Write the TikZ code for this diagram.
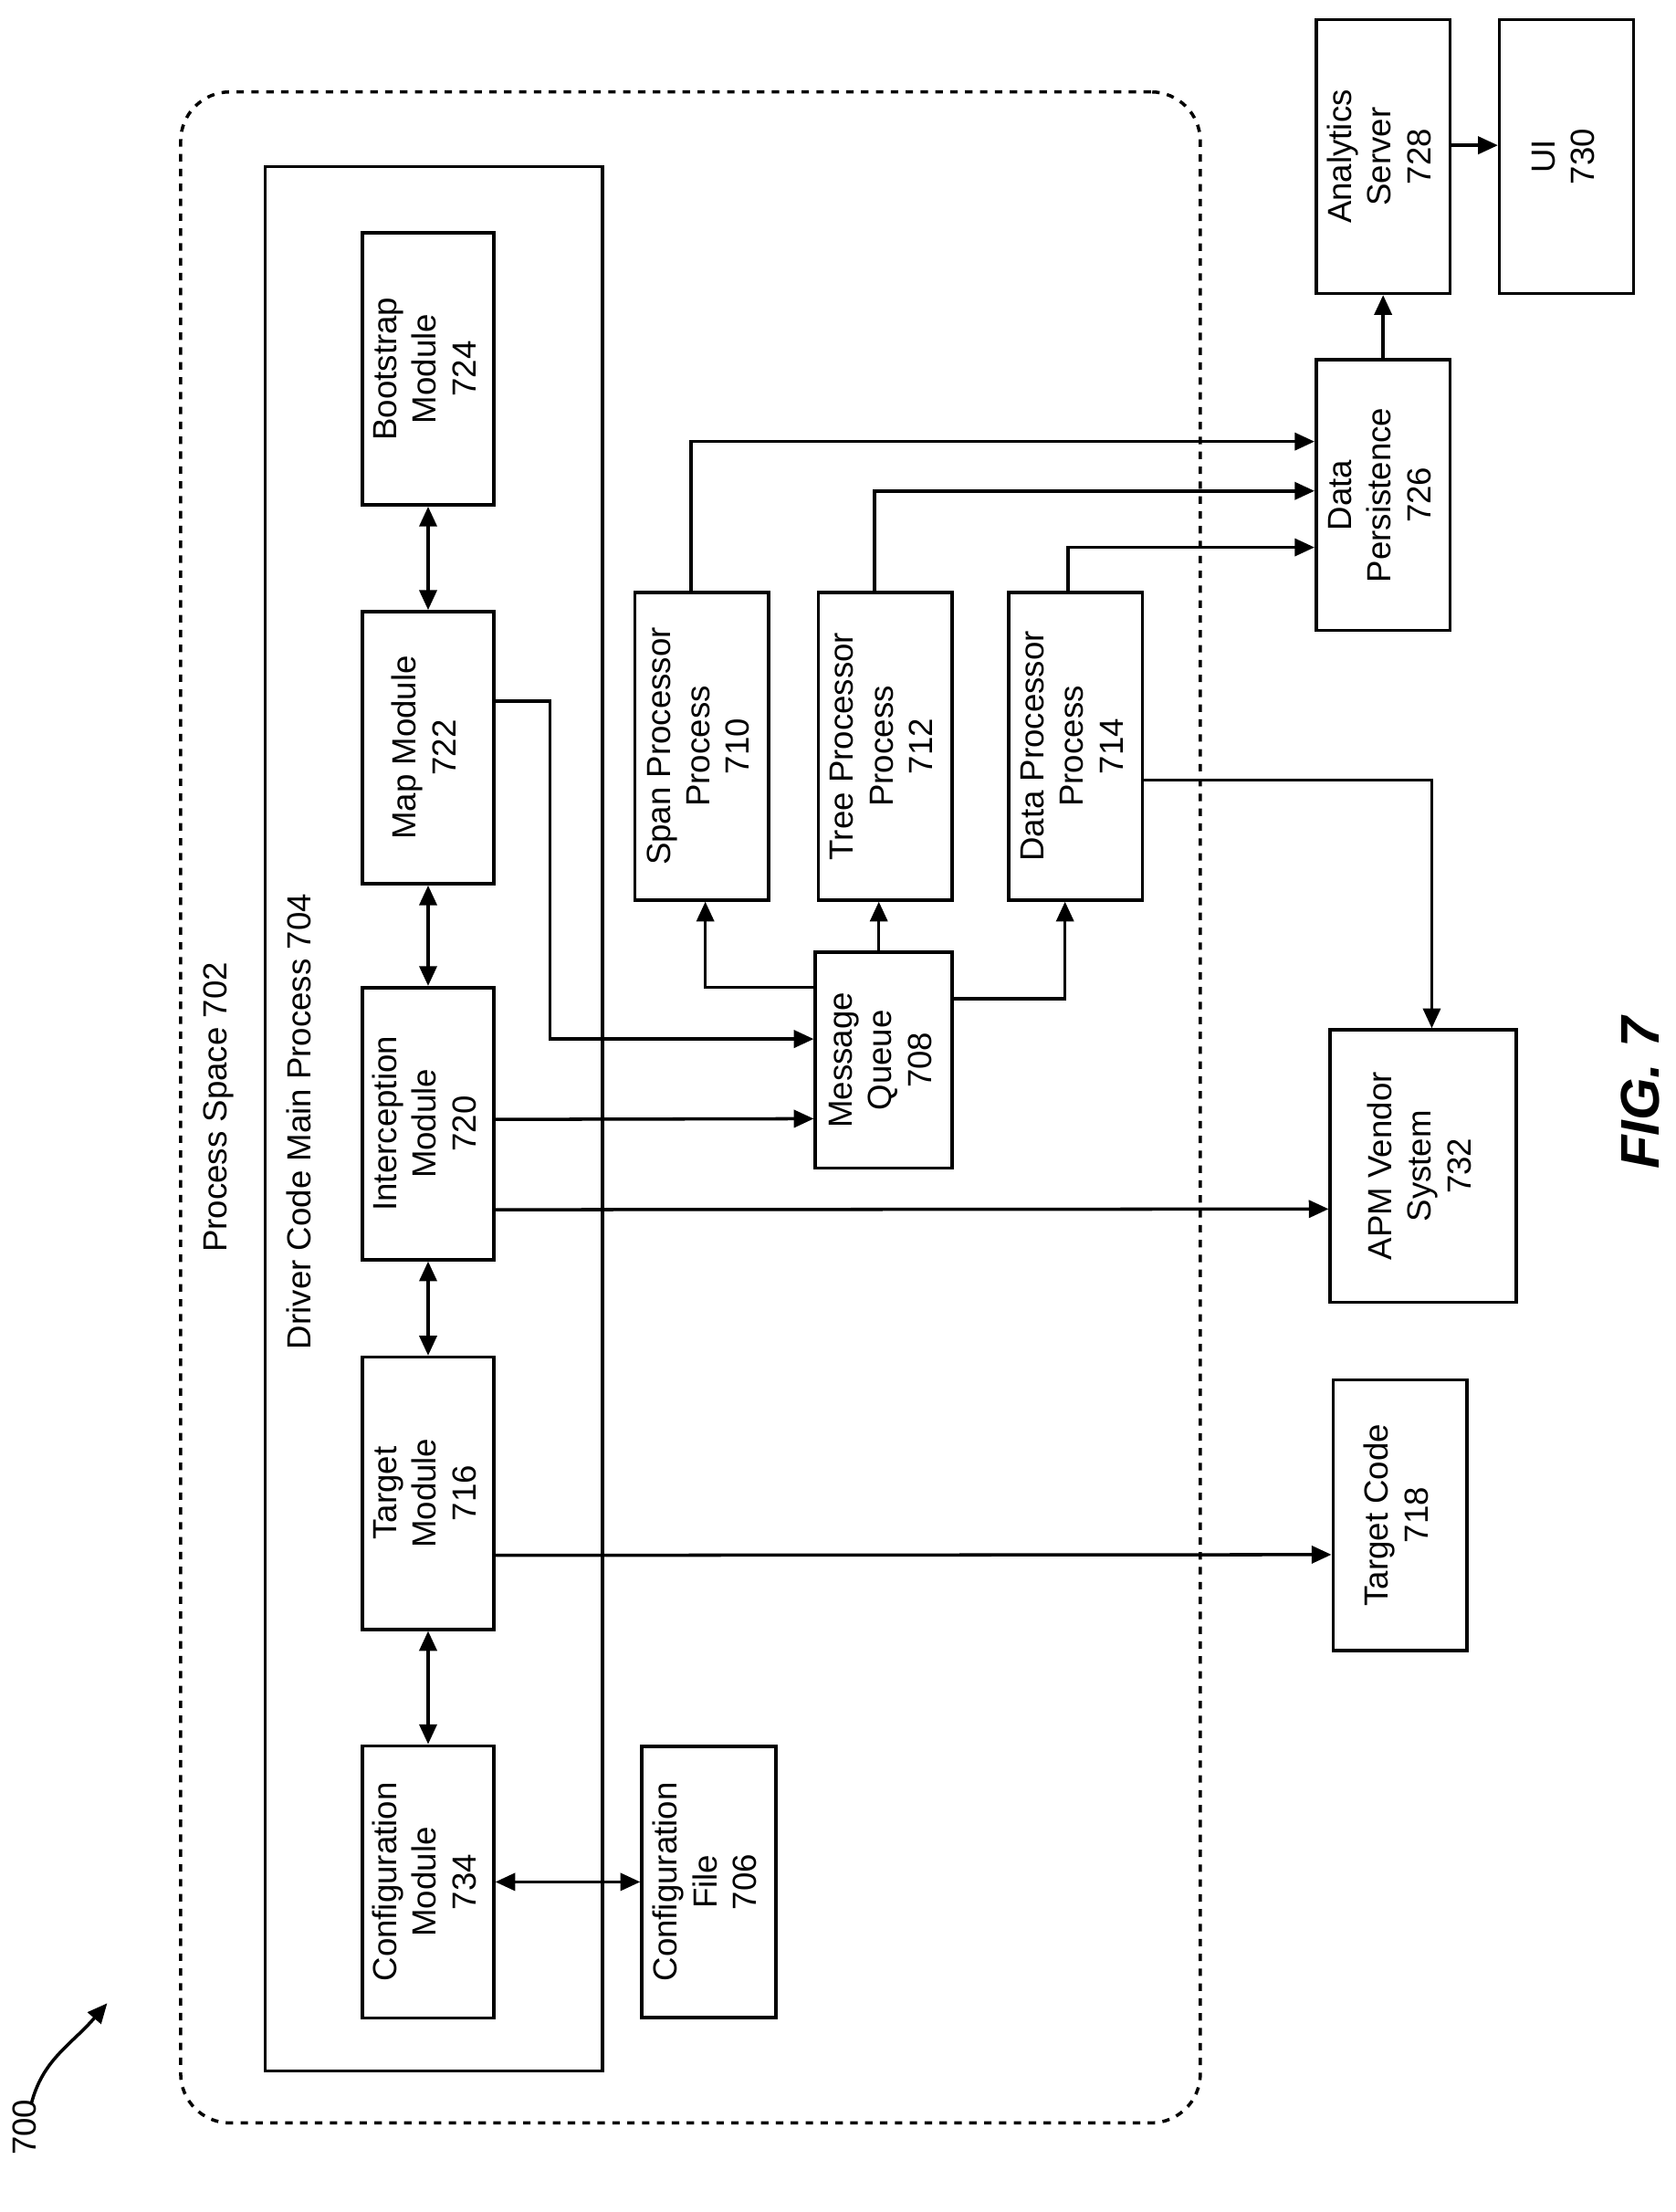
\documentclass[tikz,border=0pt]{standalone}
\usepackage{fontspec}
\setmainfont{Liberation Sans}
\usetikzlibrary{arrows.meta,calc}
\newcommand{\rt}[1]{\rotatebox{90}{\begin{tabular}{@{}c@{}}#1\end{tabular}}}
\begin{document}
\begin{tikzpicture}[x=0.02cm,y=-0.02cm,
  every node/.style={font=\fontsize{13.5}{16}\selectfont},
  box/.style={draw,line width=1.3pt,inner sep=0pt},
  ar/.style={line width=1.3pt,-{Triangle[length=8pt,width=7pt]}},
  dar/.style={line width=1.3pt,{Triangle[length=8pt,width=7pt]}-{Triangle[length=8pt,width=7pt]}}]
\useasboundingbox (0,0) rectangle (1188,1568);
\node[draw,dashed,line width=1.3pt,rounded corners=0.7cm,minimum width=14.46cm,minimum height=28.8cm] (ps) at (489.5,785) {};
\node (psl) at (155,785) {\rt{Process Space 702}};
\node[box,minimum width=4.78cm,minimum height=27cm] (dc) at (307.5,793) {};
\node (dcl) at (215,795) {\rt{Driver Code Main Process 704}};
\node[box,minimum width=1.86cm,minimum height=3.86cm] (boot) at (303.5,261.5) {\rt{Bootstrap\\Module\\724}};
\node[box,minimum width=1.86cm,minimum height=3.86cm] (map) at (303.5,530) {\rt{Map Module\\722}};
\node[box,minimum width=1.86cm,minimum height=3.86cm] (inter) at (303.5,796.5) {\rt{Interception\\Module\\720}};
\node[box,minimum width=1.86cm,minimum height=3.86cm] (target) at (303.5,1058.5) {\rt{Target\\Module\\716}};
\node[box,minimum width=1.86cm,minimum height=3.86cm] (confm) at (303.5,1334) {\rt{Configuration\\Module\\734}};
\node[box,minimum width=1.9cm,minimum height=3.84cm] (conff) at (502.5,1334) {\rt{Configuration\\File\\706}};
\node[box,minimum width=1.9cm,minimum height=4.36cm] (span) at (497.5,529) {\rt{Span Processor\\Process\\710}};
\node[box,minimum width=1.9cm,minimum height=4.36cm] (tree) at (627.5,529) {\rt{Tree Processor\\Process\\712}};
\node[box,minimum width=1.9cm,minimum height=4.36cm] (data) at (762.5,529) {\rt{Data Processor\\Process\\714}};
\node[box,minimum width=1.94cm,minimum height=3.06cm] (mq) at (626.5,751.5) {\rt{Message\\Queue\\708}};
\node[box,minimum width=1.9cm,minimum height=3.84cm] (dp) at (980.5,351) {\rt{Data\\Persistence\\726}};
\node[box,minimum width=1.9cm,minimum height=3.88cm] (as) at (980.5,111) {\rt{Analytics\\Server\\728}};
\node[box,minimum width=1.9cm,minimum height=3.88cm] (ui) at (1110.5,111) {\rt{UI\\730}};
\node[box,minimum width=2.64cm,minimum height=3.86cm] (apm) at (1009,826.5) {\rt{APM Vendor\\System\\732}};
\node[box,minimum width=1.9cm,minimum height=3.84cm] (tc) at (992.5,1074) {\rt{Target Code\\718}};
\node (fig) at (1163,775) {\rotatebox{90}{\fontsize{22}{26}\selectfont\bfseries\itshape FIG. 7}};
\node (n700) at (20,1508) {\rt{700}};
\coordinate (a1) at (22,1492);
\coordinate (a2) at (76,1420);
\draw[ar] (a1) .. controls (30,1460) and (50,1450) .. (a2);
% double arrows
\draw[dar] (boot.south) -- (map.north);
\draw[dar] (map.south) -- (inter.north);
\draw[dar] (inter.south) -- (target.north);
\draw[dar] (target.south) -- (confm.north);
\draw[dar] (confm.east) -- (conff.west);
% to message queue etc
\coordinate (m1) at ($(map.east)+(0,-33)$);
\coordinate (q1) at ($(mq.west)+(0,-15)$);
\draw[ar] (m1) -- (390,497) |- (q1);
\draw[ar] ($(inter.east)+(0,-3)$) -- (mq.west |- 0,793);
\draw[ar] ($(inter.east)+(0,61)$) -- (apm.west |- 0,857);
\draw[ar] ($(target.east)+(0,44)$) -- (tc.west |- 0,1102);
\draw[ar] (mq.west |- 0,700) -| (span.south -| 500,0);
\draw[ar] (mq.north -| 623,0) -- (tree.south -| 623,0);
\draw[ar] (mq.east |- 0,708) -| (data.south -| 755,0);
\draw[ar] (span.north -| 490,0) |- (dp.west |- 0,313);
\draw[ar] (tree.north -| 620,0) |- (dp.west |- 0,348);
\draw[ar] (data.north -| 757,0) |- (dp.west |- 0,388);
\draw[ar] (data.east |- 0,553) -| (apm.north -| 1015,0);
\draw[ar] (dp.north) -- (as.south);
\draw[ar] (as.east |- 0,103) -- (ui.west |- 0,103);
\end{tikzpicture}
\end{document}
